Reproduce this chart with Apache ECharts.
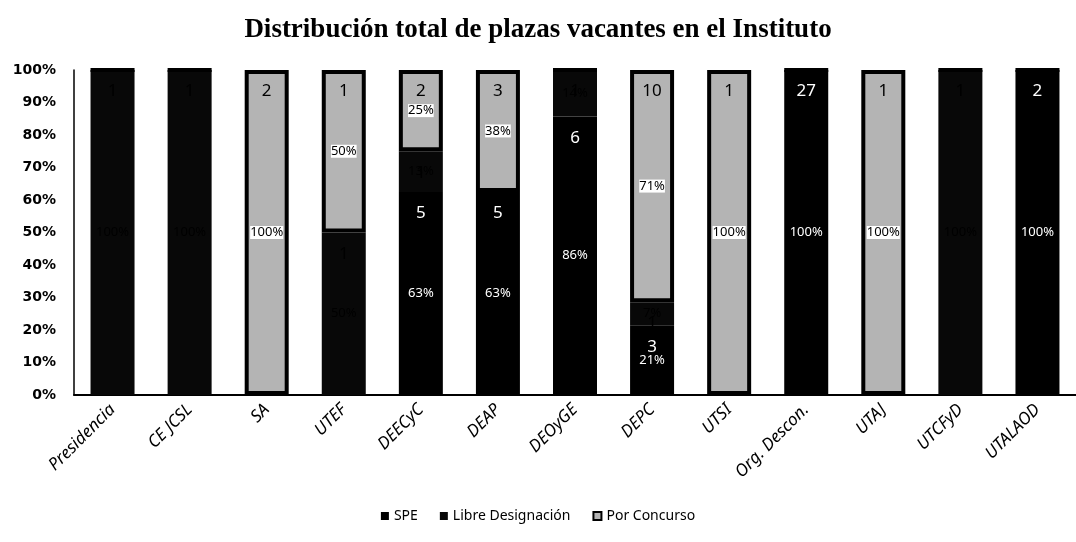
<!DOCTYPE html>
<html>
<head>
<meta charset="utf-8">
<script src="https://cdn.jsdelivr.net/npm/echarts@6/dist/echarts.min.js"></script>
<style>
  html, body { margin: 0; padding: 0; background: #fff; }
  #main { width: 1076px; height: 542px; }
</style>
</head>
<body>
<div id="main"></div>
<script>
// categorias (areas del Instituto)
const categories = ['Presidencia', 'CE JCSL', 'SA', 'UTEF', 'DEECyC', 'DEAP', 'DEOyGE',
  'DEPC', 'UTSI', 'Org. Descon.', 'UTAJ', 'UTCFyD', 'UTALAOD']
// plazas vacantes por tipo
const spe = [0, 0, 0, 0, 5, 5, 6, 3, 0, 27, 0, 0, 2]
const libreDesignacion = [1, 1, 0, 1, 1, 0, 1, 1, 0, 0, 0, 1, 0]
const porConcurso = [0, 0, 2, 1, 2, 3, 0, 10, 1, 0, 1, 0, 0]
const yTicks = [0, 10, 20, 30, 40, 50, 60, 70, 80, 90, 100]

const totals = categories.map((c, i) => spe[i] + libreDesignacion[i] + porConcurso[i])
const pct = arr => arr.map((v, i) => ({ value: totals[i] ? v / totals[i] * 100 : 0, count: v }))

const chart = echarts.init(document.getElementById('main'))

const labelFont = "'Liberation Sans Narrow', 'Noto Sans', sans-serif"

// serie visible (etiqueta con el numero de plazas arriba)
function countSeries(name, data, color, txtColor, extra) {
  return Object.assign({
    name: name,
    type: 'bar',
    stack: 'plazas',
    barWidth: 44,
    data: pct(data),
    itemStyle: { color: color },
    label: {
      show: true,
      position: 'insideTop',
      distance: 13,
      color: txtColor,
      fontFamily: labelFont,
      fontSize: 17,
      formatter: p => p.data.count ? String(p.data.count) : ''
    }
  }, extra || {})
}

// serie transparente encima (etiqueta con el porcentaje al centro)
function pctSeries(data, txtColor, bg) {
  return {
    type: 'bar',
    stack: 'pct',
    xAxisIndex: 1,
    yAxisIndex: 1,
    barWidth: 44,
    silent: true,
    data: pct(data),
    itemStyle: { color: 'rgba(0,0,0,0)' },
    label: {
      show: true,
      position: 'inside',
      color: txtColor,
      backgroundColor: bg,
      fontFamily: labelFont,
      fontSize: 13,
      formatter: p => p.data.count ? Math.round(p.value) + '%' : ''
    }
  }
}

const option = {
  animation: false,
  backgroundColor: '#fff',
  title: {
    text: 'Distribución total de plazas vacantes en el Instituto',
    left: 'center',
    top: 12,
    textStyle: {
      fontFamily: "'Liberation Serif', 'DejaVu Serif', serif",
      fontWeight: 'bold',
      fontSize: 27,
      color: '#000'
    }
  },
  legend: {
    bottom: 14,
    left: 'center',
    itemWidth: 8,
    itemHeight: 8,
    itemGap: 22,
    icon: 'rect',
    data: ['SPE', 'Libre Designación', 'Por Concurso'],
    textStyle: { fontFamily: labelFont, fontSize: 14, color: '#000' }
  },
  grid: {
    left: 74,
    top: 70,
    width: 1010,
    height: 325,
    containLabel: false
  },
  xAxis: [{
    type: 'category',
    data: categories,
    axisTick: { show: false },
    axisLine: { lineStyle: { color: '#000', width: 2 } },
    axisLabel: {
      rotate: 45,
      interval: 0,
      margin: 12,
      color: '#000',
      fontStyle: 'italic',
      fontFamily: labelFont,
      fontSize: 17
    }
  }, {
    type: 'category',
    data: categories,
    show: false
  }],
  yAxis: [{
    type: 'value',
    min: yTicks[0],
    max: yTicks[yTicks.length - 1],
    interval: 10,
    splitLine: { show: false },
    axisLine: { show: true, lineStyle: { color: '#000', width: 1.5 } },
    axisTick: { show: false },
    axisLabel: {
      formatter: '{value}%',
      color: '#000',
      fontWeight: 'bold',
      fontFamily: "'DejaVu Sans', sans-serif",
      fontSize: 14,
      margin: 18
    }
  }, {
    type: 'value',
    min: 0,
    max: 100,
    show: false
  }],
  series: [
    countSeries('SPE', spe, '#000', '#fff'),
    countSeries('Libre Designación', libreDesignacion, '#080808', '#000'),
    countSeries('Por Concurso', porConcurso, '#b4b4b4', '#000', {
      itemStyle: { color: '#b4b4b4', borderColor: '#000', borderWidth: 4 }
    }),
    pctSeries(spe, '#fff', 'transparent'),
    pctSeries(libreDesignacion, '#000', 'transparent'),
    pctSeries(porConcurso, '#000', '#fff')
  ]
}

chart.setOption(option)
</script>
</body>
</html>
